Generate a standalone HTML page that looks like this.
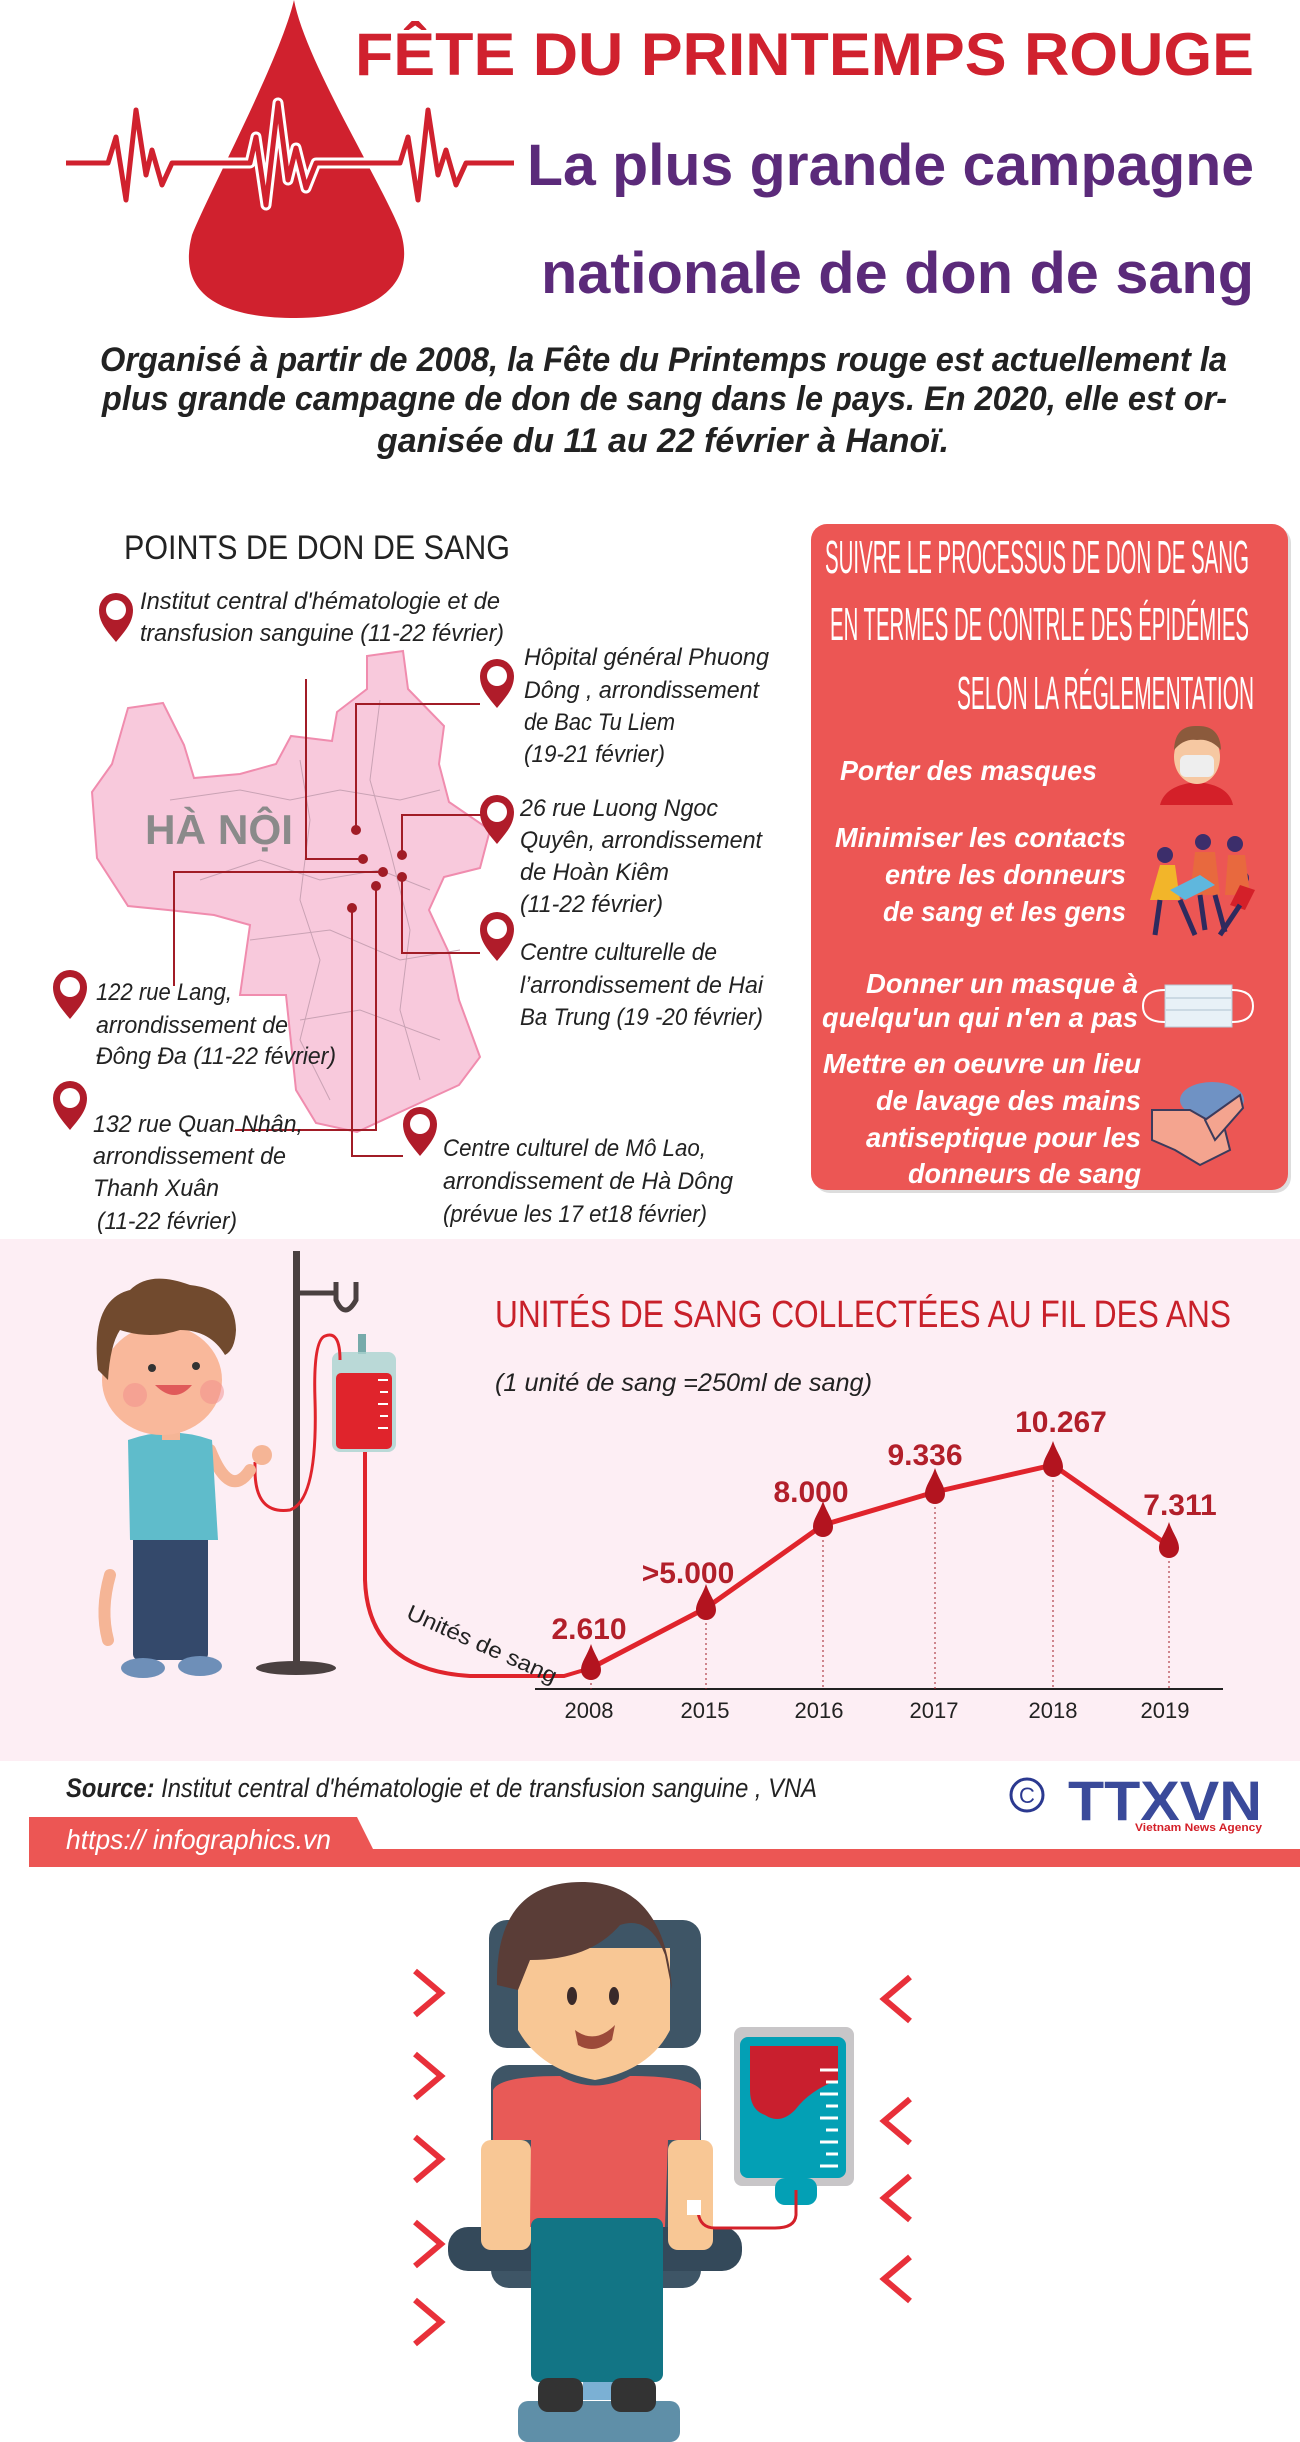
<!DOCTYPE html>
<html><head><meta charset="utf-8"><style>
html,body{margin:0;padding:0;background:#fff}
svg{display:block}
.c{font-family:"Liberation Sans Narrow","Liberation Sans",sans-serif}
.s{font-family:"Liberation Sans",sans-serif}
</style></head><body>
<svg width="1300" height="2442" viewBox="0 0 1300 2442" xmlns="http://www.w3.org/2000/svg">
<rect width="1300" height="2442" fill="#fff"/>
<!-- header drop -->
<path d="M294 0 C280 60 210 190 192 235 C175 300 230 318 296 318 C365 318 420 290 400 230 C380 180 305 60 294 0Z" fill="#d0212e"/>
<polyline points="66,163 108,163 116,137 126,200 136,110 146,175 152,150 162,185 172,163 250,163 256,137 266,205 278,103 288,180 296,148 306,188 316,163 400,163 408,137 418,200 428,110 438,175 446,150 456,185 466,163 514,163" fill="none" stroke="#fff" stroke-width="11" stroke-linejoin="round"/>
<polyline points="66,163 108,163 116,137 126,200 136,110 146,175 152,150 162,185 172,163 250,163 256,137 266,205 278,103 288,180 296,148 306,188 316,163 400,163 408,137 418,200 428,110 438,175 446,150 456,185 466,163 514,163" fill="none" stroke="#d0212e" stroke-width="5" stroke-linejoin="round"/>
<text x="355" y="75" class="c" font-weight="bold" font-size="60" fill="#d0212e" textLength="899" lengthAdjust="spacingAndGlyphs">FÊTE DU PRINTEMPS ROUGE</text>
<text x="527" y="185" class="c" font-weight="bold" font-size="58" fill="#5b2a7a" textLength="727" lengthAdjust="spacingAndGlyphs">La plus grande campagne</text>
<text x="541" y="293" class="c" font-weight="bold" font-size="58" fill="#5b2a7a" textLength="713" lengthAdjust="spacingAndGlyphs">nationale de don de sang</text>
<g class="c" font-weight="bold" font-style="italic" font-size="34" fill="#222">
<text x="100" y="371" textLength="1127" lengthAdjust="spacingAndGlyphs">Organisé à partir de 2008, la Fête du Printemps rouge est actuellement la</text>
<text x="102" y="410" textLength="1125" lengthAdjust="spacingAndGlyphs">plus grande campagne de don de sang dans le pays. En 2020, elle est or-</text>
<text x="377" y="452" textLength="572" lengthAdjust="spacingAndGlyphs">ganisée  du 11 au 22 février à Hanoï.</text>
</g>
<!-- map section -->
<text x="124" y="559" class="s" font-size="34" fill="#222" textLength="386" lengthAdjust="spacingAndGlyphs">POINTS DE DON DE SANG</text>
<polygon points="367,656 403,651 408,689 444,726 439,764 449,802 490,830 480,868 444,877 429,910 449,953 459,1000 480,1057 459,1085 398,1113 357,1132 316,1123 296,1090 286,995 240,995 250,925 214,915 168,910 128,906 97,858 92,792 112,764 128,708 163,703 184,745 194,778 240,774 276,764 291,736 332,741 337,712 367,689" fill="#f8c9dc" stroke="#f08cae" stroke-width="2"/>
<g stroke="#c9a2b4" stroke-width="1" fill="none">
<path d="M170 800 L240 790 L290 800 L340 790 L400 800 L440 790"/>
<path d="M200 880 L260 860 L320 880 L380 870 L430 890"/>
<path d="M300 760 L310 820 L300 900 L320 960 L300 1040 L330 1100"/>
<path d="M380 700 L370 780 L390 850 L410 930 L400 1010 L420 1080"/>
<path d="M250 940 L330 930 L400 960 L460 950"/>
<path d="M300 1020 L360 1010 L440 1040"/>
</g>
<text x="145" y="844" class="s" font-weight="bold" font-size="42" fill="#8a8a8a" textLength="148" lengthAdjust="spacingAndGlyphs">HÀ NỘI</text>
<g stroke="#a11c26" stroke-width="2" fill="none">
<polyline points="356,830 356,704 480,704"/>
<polyline points="306,679 306,859 363,859"/>
<polyline points="174,986 174,872 383,872"/>
<polyline points="402,855 402,815 482,815"/>
<polyline points="402,877 402,953 480,953"/>
<polyline points="376,886 376,1130 235,1130"/>
<polyline points="352,908 352,1156 403,1156"/>
</g>
<g fill="#a11c26">
<circle cx="356" cy="830" r="5"/><circle cx="363" cy="859" r="5"/><circle cx="383" cy="872" r="5"/>
<circle cx="402" cy="855" r="5"/><circle cx="402" cy="877" r="5"/><circle cx="376" cy="886" r="5"/><circle cx="352" cy="908" r="5"/>
</g>
<defs>
<g id="pin"><path d="M0 24 C-10 12 -17 4 -17 -8 A17 17 0 1 1 17 -8 C17 4 10 12 0 24Z" fill="#b01c2a"/><circle cx="0" cy="-8" r="10" fill="#fff"/></g>
</defs>
<use href="#pin" x="116" y="618"/>
<use href="#pin" x="497" y="684"/>
<use href="#pin" x="497" y="820"/>
<use href="#pin" x="497" y="937"/>
<use href="#pin" x="70" y="995"/>
<use href="#pin" x="70" y="1106"/>
<use href="#pin" x="420" y="1132"/>
<g class="c" font-style="italic" font-size="24" fill="#222">
<text x="140" y="609" textLength="360" lengthAdjust="spacingAndGlyphs">Institut central d'hématologie et de</text>
<text x="140" y="641" textLength="364" lengthAdjust="spacingAndGlyphs">transfusion sanguine (11-22 février)</text>
<text x="524" y="665" textLength="245" lengthAdjust="spacingAndGlyphs">Hôpital général Phuong</text>
<text x="524" y="698" textLength="235" lengthAdjust="spacingAndGlyphs">Dông , arrondissement</text>
<text x="524" y="730" textLength="151" lengthAdjust="spacingAndGlyphs">de Bac Tu Liem</text>
<text x="524" y="762" textLength="141" lengthAdjust="spacingAndGlyphs">(19-21 février)</text>
<text x="520" y="816" textLength="198" lengthAdjust="spacingAndGlyphs">26  rue Luong Ngoc</text>
<text x="520" y="848" textLength="242" lengthAdjust="spacingAndGlyphs">Quyên, arrondissement</text>
<text x="520" y="880" textLength="149" lengthAdjust="spacingAndGlyphs">de  Hoàn Kiêm</text>
<text x="520" y="912" textLength="143" lengthAdjust="spacingAndGlyphs">(11-22 février)</text>
<text x="520" y="960" textLength="197" lengthAdjust="spacingAndGlyphs">Centre culturelle de</text>
<text x="520" y="993" textLength="243" lengthAdjust="spacingAndGlyphs">l’arrondissement de Hai</text>
<text x="520" y="1025" textLength="243" lengthAdjust="spacingAndGlyphs">Ba Trung (19 -20 février)</text>
<text x="96" y="1000" textLength="136" lengthAdjust="spacingAndGlyphs">122 rue Lang,</text>
<text x="96" y="1033" textLength="192" lengthAdjust="spacingAndGlyphs">arrondissement de</text>
<text x="96" y="1064" textLength="240" lengthAdjust="spacingAndGlyphs">Đông Đa (11-22 février)</text>
<text x="93" y="1132" textLength="210" lengthAdjust="spacingAndGlyphs">132  rue Quan Nhân,</text>
<text x="93" y="1164" textLength="193" lengthAdjust="spacingAndGlyphs">arrondissement de</text>
<text x="93" y="1196" textLength="126" lengthAdjust="spacingAndGlyphs">Thanh Xuân</text>
<text x="97" y="1229" textLength="140" lengthAdjust="spacingAndGlyphs">(11-22 février)</text>
<text x="443" y="1156" textLength="263" lengthAdjust="spacingAndGlyphs">Centre culturel de Mô Lao,</text>
<text x="443" y="1189" textLength="290" lengthAdjust="spacingAndGlyphs">arrondissement de Hà Dông</text>
<text x="443" y="1222" textLength="264" lengthAdjust="spacingAndGlyphs">(prévue les 17 et18 février)</text>
</g>
<!-- right panel -->
<rect x="814" y="527" width="477" height="666" rx="16" fill="#bbb" opacity="0.5"/>
<rect x="811" y="524" width="477" height="666" rx="16" fill="#ec5654"/>
<g class="c" font-size="46" fill="#fff">
<text x="825" y="573" textLength="424" lengthAdjust="spacingAndGlyphs">SUIVRE LE PROCESSUS DE DON DE SANG</text>
<text x="830" y="640" textLength="419" lengthAdjust="spacingAndGlyphs">EN TERMES DE CONTRLE DES ÉPIDÉMIES</text>
<text x="957" y="709" textLength="297" lengthAdjust="spacingAndGlyphs">SELON LA RÉGLEMENTATION</text>
</g>
<g class="s" font-weight="bold" font-style="italic" font-size="28" fill="#fff">
<text x="840" y="780" textLength="257" lengthAdjust="spacingAndGlyphs">Porter des masques</text>
<text x="835" y="847" textLength="291" lengthAdjust="spacingAndGlyphs">Minimiser les contacts</text>
<text x="885" y="884" textLength="241" lengthAdjust="spacingAndGlyphs">entre les donneurs</text>
<text x="883" y="921" textLength="243" lengthAdjust="spacingAndGlyphs">de sang et les gens</text>
<text x="866" y="993" textLength="272" lengthAdjust="spacingAndGlyphs">Donner un masque à</text>
<text x="822" y="1027" textLength="316" lengthAdjust="spacingAndGlyphs">quelqu'un qui n'en a pas</text>
<text x="823" y="1073" textLength="318" lengthAdjust="spacingAndGlyphs">Mettre en oeuvre un lieu</text>
<text x="876" y="1110" textLength="265" lengthAdjust="spacingAndGlyphs">de lavage des mains</text>
<text x="866" y="1147" textLength="275" lengthAdjust="spacingAndGlyphs">antiseptique pour les</text>
<text x="908" y="1183" textLength="233" lengthAdjust="spacingAndGlyphs">donneurs de sang</text>
</g>
<!-- icons -->
<path d="M1160 805 Q1165 785 1197 782 Q1229 785 1233 805Z" fill="#d42029"/>
<ellipse cx="1197" cy="757" rx="23" ry="27" fill="#f6c8a2"/>
<path d="M1174 750 Q1175 725 1197 726 Q1220 725 1221 750 Q1210 738 1197 740 Q1184 738 1174 750Z" fill="#8b5a3c"/>
<rect x="1180" y="755" width="34" height="22" rx="6" fill="#eee"/>
<g fill="#3c2e6b"><circle cx="1165" cy="855" r="8"/><circle cx="1203" cy="842" r="8"/><circle cx="1235" cy="844" r="8"/><circle cx="1242" cy="878" r="7"/></g>
<path d="M1150 900 L1160 865 L1175 865 L1180 900Z" fill="#f2b52a"/>
<path d="M1190 895 L1195 852 L1215 852 L1220 895Z" fill="#e8693e"/>
<path d="M1225 895 L1228 855 L1245 855 L1250 895Z" fill="#e8693e"/>
<path d="M1170 890 L1200 875 L1215 885 L1185 900Z" fill="#5fb7dd"/>
<path d="M1230 905 L1240 885 L1255 890 L1245 910Z" fill="#d42029"/>
<g stroke="#2e2a5e" stroke-width="5"><line x1="1160" y1="900" x2="1155" y2="935"/><line x1="1200" y1="895" x2="1205" y2="930"/><line x1="1215" y1="895" x2="1225" y2="932"/><line x1="1240" y1="905" x2="1220" y2="935"/><line x1="1180" y1="900" x2="1195" y2="935"/></g>
<rect x="1165" y="985" width="67" height="42" fill="#e8f1f7" stroke="#b8c9d6"/>
<g stroke="#cbd9e3" stroke-width="2"><line x1="1165" y1="998" x2="1232" y2="998"/><line x1="1165" y1="1010" x2="1232" y2="1010"/></g>
<path d="M1165 990 Q1143 990 1143 1006 Q1143 1022 1165 1022 M1232 990 Q1253 990 1253 1006 Q1253 1022 1232 1022" fill="none" stroke="#fff" stroke-width="2"/>
<ellipse cx="1212" cy="1100" rx="32" ry="18" fill="#6f92c4"/>
<path d="M1152 1110 L1190 1110 L1225 1130 L1230 1150 L1200 1165 L1175 1150 L1152 1140Z" fill="#f4a48f" stroke="#3b3b5c" stroke-width="2"/>
<path d="M1205 1120 L1240 1095 L1243 1108 L1215 1140Z" fill="#f4a48f" stroke="#3b3b5c" stroke-width="2"/>
<!-- pink band -->
<rect x="0" y="1239" width="1300" height="522" fill="#fdeef4"/>
<text x="495" y="1327" class="c" font-size="38" fill="#c8202a" textLength="736" lengthAdjust="spacingAndGlyphs">UNITÉS DE SANG COLLECTÉES AU FIL DES ANS</text>
<text x="495" y="1391" class="c" font-style="italic" font-size="25" fill="#222" textLength="377" lengthAdjust="spacingAndGlyphs">(1 unité de sang =250ml de sang)</text>
<!-- IV pole -->
<rect x="293" y="1251" width="7" height="415" fill="#4a4040"/>
<ellipse cx="296" cy="1668" rx="40" ry="7" fill="#4a4040"/>
<path d="M296 1293 L336 1293 M336 1282 L336 1300 Q345 1320 356 1300 L356 1282" fill="none" stroke="#4a4040" stroke-width="5"/>
<rect x="358" y="1334" width="8" height="20" fill="#7aa"/>
<rect x="332" y="1352" width="64" height="100" rx="8" fill="#a9d3cf" opacity="0.8"/>
<rect x="336" y="1373" width="56" height="76" rx="5" fill="#e0242c"/>
<g stroke="#fff" stroke-width="2"><line x1="378" y1="1380" x2="388" y2="1380"/><line x1="380" y1="1392" x2="388" y2="1392"/><line x1="378" y1="1404" x2="388" y2="1404"/><line x1="380" y1="1416" x2="388" y2="1416"/><line x1="378" y1="1428" x2="388" y2="1428"/></g>
<path d="M365 1452 L365 1580 Q368 1670 470 1676 L564 1676 L591 1668" fill="none" stroke="#e0242c" stroke-width="4"/>
<path d="M340 1360 Q340 1330 325 1336 Q313 1340 315 1400 Q318 1500 290 1510 Q255 1515 255 1470 L255 1462" fill="none" stroke="#e0242c" stroke-width="3"/>
<text class="s" font-size="22" fill="#222" transform="translate(405,1618) rotate(24)" textLength="162" lengthAdjust="spacingAndGlyphs">Unités de sang</text>
<!-- boy -->
<path d="M110 1575 Q100 1610 108 1640" stroke="#f5b596" stroke-width="12" fill="none" stroke-linecap="round"/>
<path d="M210 1450 Q230 1500 250 1470" stroke="#f5b596" stroke-width="12" fill="none" stroke-linecap="round"/>
<circle cx="262" cy="1455" r="10" fill="#f5b596"/>
<rect x="133" y="1530" width="75" height="130" rx="6" fill="#34496b"/>
<ellipse cx="143" cy="1668" rx="22" ry="10" fill="#6e8fb8"/><ellipse cx="200" cy="1666" rx="22" ry="10" fill="#6e8fb8"/>
<path d="M128 1440 Q170 1425 212 1440 L218 1540 L130 1540Z" fill="#5fbccb"/>
<rect x="162" y="1420" width="18" height="20" fill="#f5b596"/>
<ellipse cx="162" cy="1380" rx="60" ry="55" fill="#f9b89b"/>
<path d="M98 1370 Q90 1300 130 1290 Q150 1270 190 1285 Q235 1290 236 1330 Q235 1350 225 1355 Q210 1330 180 1330 Q150 1340 120 1330 Q110 1345 108 1380Z" fill="#714a2e"/>
<circle cx="152" cy="1368" r="4" fill="#333"/><circle cx="196" cy="1366" r="4" fill="#333"/>
<path d="M155 1385 Q175 1405 192 1385Z" fill="#e05a5a"/>
<circle cx="135" cy="1395" r="12" fill="#f28b8b" opacity="0.5"/><circle cx="212" cy="1392" r="12" fill="#f28b8b" opacity="0.5"/>
<!-- chart -->
<line x1="535" y1="1689" x2="1223" y2="1689" stroke="#222" stroke-width="2"/>
<g stroke="#a11c26" stroke-width="1" stroke-dasharray="2,3">
<line x1="591" y1="1668" x2="591" y2="1689"/><line x1="706" y1="1608" x2="706" y2="1689"/><line x1="823" y1="1525" x2="823" y2="1689"/>
<line x1="935" y1="1492" x2="935" y2="1689"/><line x1="1053" y1="1465" x2="1053" y2="1689"/><line x1="1169" y1="1546" x2="1169" y2="1689"/>
</g>
<polyline points="591,1668 706,1608 823,1525 935,1492 1053,1465 1169,1546" fill="none" stroke="#e0242c" stroke-width="5" stroke-linejoin="round"/>
<defs><path id="dr" d="M0 -28 C-4 -16 -10 -10 -10 -2 A10 10 0 0 0 10 -2 C10 -10 4 -16 0 -28Z" fill="#b3141f"/></defs>
<use href="#dr" x="591" y="1672"/><use href="#dr" x="706" y="1612"/><use href="#dr" x="823" y="1529"/>
<use href="#dr" x="935" y="1496"/><use href="#dr" x="1053" y="1469"/><use href="#dr" x="1169" y="1550"/>
<g class="c" font-weight="bold" font-size="30" fill="#b21f2a" text-anchor="middle">
<text x="589" y="1639">2.610</text><text x="688" y="1583">&gt;5.000</text><text x="811" y="1502">8.000</text>
<text x="925" y="1465">9.336</text><text x="1061" y="1432">10.267</text><text x="1180" y="1515">7.311</text>
</g>
<g class="c" font-size="22" fill="#222" text-anchor="middle">
<text x="589" y="1718">2008</text><text x="705" y="1718">2015</text><text x="819" y="1718">2016</text>
<text x="934" y="1718">2017</text><text x="1053" y="1718">2018</text><text x="1165" y="1718">2019</text>
</g>
<!-- source -->
<text x="66" y="1797" class="c" font-style="italic" font-size="27" fill="#222" textLength="751" lengthAdjust="spacingAndGlyphs"><tspan font-weight="bold">Source:</tspan> Institut central d'hématologie et de transfusion sanguine , VNA</text>
<circle cx="1027" cy="1795" r="16" fill="none" stroke="#2b3990" stroke-width="3"/>
<text x="1027" y="1803" class="s" font-size="22" fill="#2b3990" text-anchor="middle">C</text>
<text x="1068" y="1820" class="s" font-weight="bold" font-size="56" fill="#3a4a9a" textLength="194" lengthAdjust="spacingAndGlyphs">TTXVN</text>
<text x="1135" y="1831" class="s" font-weight="bold" font-size="11" fill="#d42029" textLength="127" lengthAdjust="spacingAndGlyphs">Vietnam News Agency</text>
<polygon points="29,1817 357,1817 373,1849 1300,1849 1300,1867 29,1867" fill="#ec5654"/>
<text x="66" y="1849" class="c" font-style="italic" font-size="28" fill="#fff" textLength="265" lengthAdjust="spacingAndGlyphs">https:// infographics.vn</text>
<!-- bottom illustration -->
<g fill="none" stroke="#e8303a" stroke-width="6">
<polyline points="415,1971 441,1993 415,2015"/><polyline points="415,2054 441,2076 415,2098"/><polyline points="415,2137 441,2159 415,2181"/>
<polyline points="415,2222 441,2244 415,2266"/><polyline points="415,2300 441,2322 415,2344"/>
<polyline points="910,1977 884,1999 910,2021"/><polyline points="910,2099 884,2121 910,2143"/><polyline points="910,2176 884,2198 910,2220"/><polyline points="910,2257 884,2279 910,2301"/>
</g>
<rect x="489" y="1920" width="212" height="128" rx="18" fill="#3e5566"/>
<rect x="491" y="2065" width="210" height="223" rx="18" fill="#3e5566"/>
<rect x="448" y="2227" width="294" height="44" rx="20" fill="#34495a"/>
<rect x="518" y="2401" width="162" height="41" rx="10" fill="#5f8fa8"/>
<rect x="583" y="2250" width="30" height="150" fill="#7bb0d4"/>
<path d="M518 1948 L670 1948 L670 2030 Q650 2070 595 2080 Q540 2070 518 2030Z" fill="#f8c795"/>
<path d="M497 1985 Q495 1880 585 1882 Q665 1885 672 1990 L665 1955 Q650 1915 620 1925 Q590 1960 530 1960 L518 1990Z" fill="#5a3d37"/>
<ellipse cx="572" cy="1996" rx="5" ry="9" fill="#3a2a2a"/><ellipse cx="614" cy="1996" rx="5" ry="9" fill="#3a2a2a"/>
<path d="M575 2030 Q595 2045 615 2025 L612 2040 Q595 2055 578 2045Z" fill="#9c4a3a"/>
<rect x="481" y="2140" width="50" height="110" rx="10" fill="#f8c795"/>
<rect x="668" y="2140" width="45" height="110" rx="10" fill="#f8c795"/>
<path d="M493 2090 Q500 2076 560 2076 Q595 2095 630 2076 Q690 2076 701 2090 L700 2140 L668 2140 L665 2227 L530 2227 L531 2140 L493 2140Z" fill="#e85a57"/>
<rect x="531" y="2218" width="132" height="164" rx="8" fill="#127585"/>
<rect x="538" y="2378" width="45" height="34" rx="10" fill="#333"/><rect x="611" y="2378" width="45" height="34" rx="10" fill="#333"/>
<rect x="734" y="2027" width="120" height="159" rx="8" fill="#c8c6c8"/>
<rect x="740" y="2037" width="106" height="141" rx="8" fill="#03a0b5"/>
<path d="M750 2046 L838 2046 L838 2080 Q810 2090 795 2110 Q780 2125 765 2115 Q750 2110 750 2090Z" fill="#c91f2e"/>
<g stroke="#fff" stroke-width="3"><line x1="820" y1="2070" x2="838" y2="2070"/><line x1="826" y1="2082" x2="838" y2="2082"/><line x1="820" y1="2094" x2="838" y2="2094"/><line x1="826" y1="2106" x2="838" y2="2106"/><line x1="820" y1="2118" x2="838" y2="2118"/><line x1="826" y1="2130" x2="838" y2="2130"/><line x1="820" y1="2142" x2="838" y2="2142"/><line x1="826" y1="2154" x2="838" y2="2154"/><line x1="820" y1="2166" x2="838" y2="2166"/></g>
<rect x="775" y="2178" width="42" height="27" rx="10" fill="#03a0b5"/>
<path d="M796 2190 L796 2215 Q795 2228 775 2228 L715 2228 Q700 2228 698 2212" fill="none" stroke="#d42029" stroke-width="3"/>
<rect x="687" y="2200" width="14" height="15" fill="#fff"/>
</svg>
</body></html>
